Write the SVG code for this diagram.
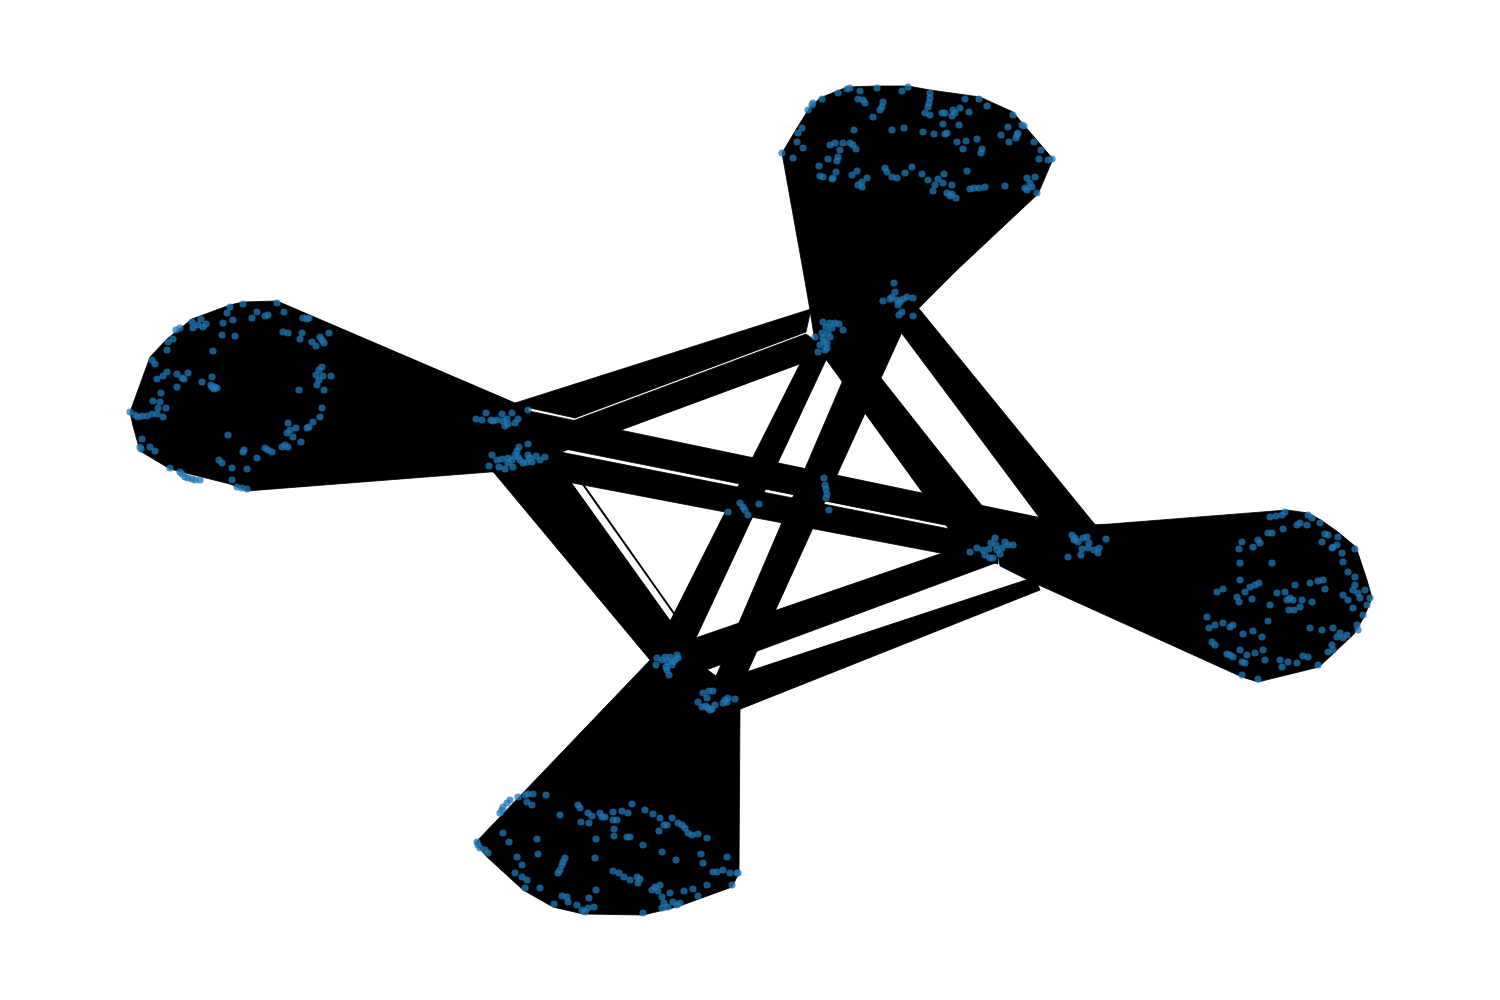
<svg xmlns="http://www.w3.org/2000/svg" width="1500" height="1000" viewBox="0 0 1500 1000">
<style>
.e polygon{fill:#000;stroke:#000;stroke-width:0.8;stroke-linejoin:round}
.n circle{fill:#1f77b4;fill-opacity:0.75}
</style>
<rect width="1500" height="1000" fill="#fff"/>
<g id="edges" class="e">
<polygon id="lobe-top" points="782,153 797,128 810,107 820,98 847,87 877,86 908,86 930,90 980,97 1013,112 1023,124 1053,159 1038,194 957,270 920,307 905,318 860,352 835,356 815,342 810,310 803,270"/>
<polygon id="lobe-left" points="130,412 133,426 140,451 170,469 230,484 247,491 490,472 520,472 548,462 535,440 528,408 515,403 277,301 243,302 230,305 192,319 167,339 150,357"/>
<polygon id="lobe-right" points="995,538 1050,527 1110,524 1287,510 1308,513 1321,520 1338,532 1356,547 1367,580 1372,598 1364,617 1354,634 1336,651 1319,667 1258,682 1242,677 1030,581 1000,566"/>
<polygon id="lobe-bottom" points="653,657 683,652 738,692 740,705 739,873 732,887 677,907 643,915 583,914 553,907 523,890 487,857 475,843"/>
<polygon points="512,404 811,309 806,332 575,418"/>
<polygon points="578,419 806,334 832,352 540,460 525,440"/>
<polygon points="505,406 1085,527 1085,553 505,437"/>
<polygon points="540,448 995,538 998,564 515,472"/>
<line x1="567" y1="451" x2="890" y2="515.5" stroke="#fff" stroke-width="1.2"/>
<polygon points="490,468 568,478 684,640 655,666"/>
<line x1="582" y1="483" x2="680" y2="622" stroke="#000" stroke-width="2"/>
<polygon points="812,340 833,345 688,655 653,655"/>
<polygon points="873,310 912,310 737,695 708,695"/>
<polygon points="812,340 851,340 1017,550 964,550"/>
<polygon points="912,300 1110,543 1062,548 888,315"/>
<polygon points="675,645 995,535 998,562 690,676"/>
<polygon points="722,680 1035,577 1040,590 738,710"/>
</g>
<g class="n">
<g id="nodes-top">
<circle cx="782" cy="153" r="3.6"/><circle cx="793" cy="158" r="3.6"/><circle cx="797" cy="142" r="3.6"/><circle cx="798" cy="133" r="3.6"/><circle cx="802" cy="128" r="3.6"/><circle cx="803" cy="148" r="3.6"/><circle cx="808" cy="110" r="3.6"/><circle cx="812" cy="105" r="3.6"/><circle cx="813" cy="103" r="3.6"/><circle cx="822" cy="99" r="3.6"/><circle cx="838" cy="93" r="3.6"/><circle cx="847" cy="89" r="3.6"/><circle cx="850" cy="88" r="3.6"/><circle cx="860" cy="91" r="3.6"/><circle cx="858" cy="99" r="3.6"/><circle cx="865" cy="103" r="3.6"/><circle cx="863" cy="100" r="3.6"/><circle cx="877" cy="88" r="3.6"/><circle cx="883" cy="102" r="3.6"/><circle cx="880" cy="110" r="3.6"/><circle cx="882" cy="107" r="3.6"/><circle cx="873" cy="117" r="3.6"/><circle cx="902" cy="91" r="3.6"/><circle cx="908" cy="87" r="3.6"/><circle cx="930" cy="93" r="3.6"/><circle cx="930" cy="98" r="3.6"/><circle cx="929" cy="103" r="3.6"/><circle cx="928" cy="107" r="3.6"/><circle cx="930" cy="115" r="3.6"/><circle cx="925" cy="113" r="3.6"/><circle cx="942" cy="113" r="3.6"/><circle cx="945" cy="113" r="3.6"/><circle cx="953" cy="110" r="3.6"/><circle cx="952" cy="116" r="3.6"/><circle cx="960" cy="108" r="3.6"/><circle cx="955" cy="113" r="3.6"/><circle cx="969" cy="112" r="3.6"/><circle cx="965" cy="99" r="3.6"/><circle cx="979" cy="99" r="3.6"/><circle cx="987" cy="106" r="3.6"/><circle cx="943" cy="124" r="3.6"/><circle cx="947" cy="133" r="3.6"/><circle cx="945" cy="134" r="3.6"/><circle cx="959" cy="125" r="3.6"/><circle cx="934" cy="134" r="3.6"/><circle cx="923" cy="132" r="3.6"/><circle cx="904" cy="128" r="3.6"/><circle cx="892" cy="130" r="3.6"/><circle cx="854" cy="130" r="3.6"/><circle cx="830" cy="145" r="3.6"/><circle cx="835" cy="143" r="3.6"/><circle cx="840" cy="150" r="3.6"/><circle cx="838" cy="157" r="3.6"/><circle cx="837" cy="161" r="3.6"/><circle cx="843" cy="143" r="3.6"/><circle cx="850" cy="143" r="3.6"/><circle cx="853" cy="145" r="3.6"/><circle cx="856" cy="149" r="3.6"/><circle cx="828" cy="159" r="3.6"/><circle cx="819" cy="166" r="3.6"/><circle cx="820" cy="176" r="3.6"/><circle cx="823" cy="177" r="3.6"/><circle cx="832" cy="179" r="3.6"/><circle cx="833" cy="178" r="3.6"/><circle cx="836" cy="172" r="3.6"/><circle cx="852" cy="175" r="3.6"/><circle cx="857" cy="171" r="3.6"/><circle cx="862" cy="182" r="3.6"/><circle cx="867" cy="178" r="3.6"/><circle cx="858" cy="185" r="3.6"/><circle cx="862" cy="187" r="3.6"/><circle cx="885" cy="168" r="3.6"/><circle cx="887" cy="172" r="3.6"/><circle cx="892" cy="177" r="3.6"/><circle cx="897" cy="178" r="3.6"/><circle cx="905" cy="173" r="3.6"/><circle cx="912" cy="167" r="3.6"/><circle cx="922" cy="174" r="3.6"/><circle cx="928" cy="180" r="3.6"/><circle cx="938" cy="179" r="3.6"/><circle cx="935" cy="185" r="3.6"/><circle cx="933" cy="191" r="3.6"/><circle cx="943" cy="183" r="3.6"/><circle cx="944" cy="174" r="3.6"/><circle cx="952" cy="185" r="3.6"/><circle cx="947" cy="193" r="3.6"/><circle cx="952" cy="194" r="3.6"/><circle cx="956" cy="198" r="3.6"/><circle cx="950" cy="196" r="3.6"/><circle cx="967" cy="171" r="3.6"/><circle cx="970" cy="189" r="3.6"/><circle cx="974" cy="188" r="3.6"/><circle cx="979" cy="188" r="3.6"/><circle cx="985" cy="187" r="3.6"/><circle cx="1005" cy="186" r="3.6"/><circle cx="957" cy="142" r="3.6"/><circle cx="966" cy="141" r="3.6"/><circle cx="963" cy="149" r="3.6"/><circle cx="977" cy="139" r="3.6"/><circle cx="982" cy="149" r="3.6"/><circle cx="981" cy="153" r="3.6"/><circle cx="1001" cy="135" r="3.6"/><circle cx="1008" cy="127" r="3.6"/><circle cx="1009" cy="142" r="3.6"/><circle cx="1013" cy="115" r="3.6"/><circle cx="1017" cy="135" r="3.6"/><circle cx="1016" cy="138" r="3.6"/><circle cx="1018" cy="133" r="3.6"/><circle cx="1022" cy="125" r="3.6"/><circle cx="1024" cy="126" r="3.6"/><circle cx="1034" cy="142" r="3.6"/><circle cx="1041" cy="150" r="3.6"/><circle cx="1039" cy="159" r="3.6"/><circle cx="1048" cy="160" r="3.6"/><circle cx="1052" cy="159" r="3.6"/><circle cx="1027" cy="178" r="3.6"/><circle cx="1030" cy="183" r="3.6"/><circle cx="1035" cy="177" r="3.6"/><circle cx="1032" cy="187" r="3.6"/><circle cx="1027" cy="190" r="3.6"/><circle cx="1037" cy="193" r="3.6"/><circle cx="1025" cy="188" r="3.6"/>
</g>
<g id="nodes-hubs">
<circle cx="894" cy="283" r="3.6"/><circle cx="895" cy="292" r="3.6"/><circle cx="883" cy="301" r="3.6"/><circle cx="890" cy="299" r="3.6"/><circle cx="897" cy="300" r="3.6"/><circle cx="903" cy="299" r="3.6"/><circle cx="907" cy="297" r="3.6"/><circle cx="913" cy="298" r="3.6"/><circle cx="898" cy="305" r="3.6"/><circle cx="902" cy="312" r="3.6"/><circle cx="899" cy="315" r="3.6"/><circle cx="913" cy="316" r="3.6"/><circle cx="892" cy="297" r="3.6"/><circle cx="900" cy="302" r="3.6"/>
<circle cx="823" cy="322" r="3.6"/><circle cx="830" cy="323" r="3.6"/><circle cx="835" cy="323" r="3.6"/><circle cx="839" cy="324" r="3.6"/><circle cx="843" cy="330" r="3.6"/><circle cx="832" cy="328" r="3.6"/><circle cx="828" cy="333" r="3.6"/><circle cx="822" cy="333" r="3.6"/><circle cx="815" cy="337" r="3.6"/><circle cx="823" cy="338" r="3.6"/><circle cx="827" cy="343" r="3.6"/><circle cx="820" cy="345" r="3.6"/><circle cx="818" cy="352" r="3.6"/><circle cx="825" cy="350" r="3.6"/><circle cx="827" cy="348" r="3.6"/><circle cx="830" cy="337" r="3.6"/><circle cx="826" cy="327" r="3.6"/><circle cx="824" cy="342" r="3.6"/>
<circle cx="824" cy="478" r="3.6"/><circle cx="825" cy="485" r="3.6"/><circle cx="826" cy="489" r="3.6"/><circle cx="827" cy="494" r="3.6"/><circle cx="826" cy="498" r="3.6"/><circle cx="829" cy="510" r="3.6"/>
<circle cx="728" cy="512" r="3.6"/><circle cx="740" cy="503" r="3.6"/><circle cx="743" cy="507" r="3.6"/><circle cx="745" cy="510" r="3.6"/><circle cx="748" cy="515" r="3.6"/><circle cx="759" cy="504" r="3.6"/>
<circle cx="657" cy="658" r="3.6"/><circle cx="656" cy="665" r="3.6"/><circle cx="665" cy="657" r="3.6"/><circle cx="670" cy="657" r="3.6"/><circle cx="677" cy="655" r="3.6"/><circle cx="678" cy="658" r="3.6"/><circle cx="668" cy="662" r="3.6"/><circle cx="672" cy="665" r="3.6"/><circle cx="667" cy="670" r="3.6"/><circle cx="669" cy="675" r="3.6"/><circle cx="673" cy="662" r="3.6"/><circle cx="666" cy="667" r="3.6"/><circle cx="675" cy="660" r="3.6"/><circle cx="662" cy="660" r="3.6"/>
<circle cx="703" cy="693" r="3.6"/><circle cx="709" cy="691" r="3.6"/><circle cx="713" cy="691" r="3.6"/><circle cx="698" cy="702" r="3.6"/><circle cx="702" cy="707" r="3.6"/><circle cx="707" cy="698" r="3.6"/><circle cx="708" cy="708" r="3.6"/><circle cx="715" cy="705" r="3.6"/><circle cx="725" cy="700" r="3.6"/><circle cx="728" cy="698" r="3.6"/><circle cx="735" cy="699" r="3.6"/><circle cx="723" cy="703" r="3.6"/><circle cx="712" cy="709" r="3.6"/><circle cx="706" cy="706" r="3.6"/><circle cx="710" cy="710" r="3.6"/><circle cx="727" cy="702" r="3.6"/>
<circle cx="476" cy="419" r="3.6"/><circle cx="482" cy="420" r="3.6"/><circle cx="486" cy="413" r="3.6"/><circle cx="491" cy="420" r="3.6"/><circle cx="493" cy="421" r="3.6"/><circle cx="497" cy="420" r="3.6"/><circle cx="502" cy="414" r="3.6"/><circle cx="503" cy="421" r="3.6"/><circle cx="507" cy="419" r="3.6"/><circle cx="505" cy="426" r="3.6"/><circle cx="512" cy="413" r="3.6"/><circle cx="515" cy="423" r="3.6"/><circle cx="518" cy="419" r="3.6"/><circle cx="528" cy="410" r="3.6"/><circle cx="508" cy="424" r="3.6"/>
<circle cx="492" cy="455" r="3.6"/><circle cx="489" cy="466" r="3.6"/><circle cx="497" cy="460" r="3.6"/><circle cx="502" cy="459" r="3.6"/><circle cx="499" cy="467" r="3.6"/><circle cx="505" cy="469" r="3.6"/><circle cx="508" cy="458" r="3.6"/><circle cx="513" cy="467" r="3.6"/><circle cx="515" cy="455" r="3.6"/><circle cx="517" cy="451" r="3.6"/><circle cx="519" cy="447" r="3.6"/><circle cx="520" cy="460" r="3.6"/><circle cx="528" cy="444" r="3.6"/><circle cx="528" cy="455" r="3.6"/><circle cx="527" cy="462" r="3.6"/><circle cx="532" cy="462" r="3.6"/><circle cx="536" cy="456" r="3.6"/><circle cx="540" cy="460" r="3.6"/><circle cx="545" cy="457" r="3.6"/><circle cx="523" cy="463" r="3.6"/><circle cx="508" cy="463" r="3.6"/><circle cx="512" cy="460" r="3.6"/><circle cx="530" cy="458" r="3.6"/><circle cx="518" cy="457" r="3.6"/>
<circle cx="970" cy="552" r="3.6"/><circle cx="977" cy="548" r="3.6"/><circle cx="983" cy="550" r="3.6"/><circle cx="985" cy="555" r="3.6"/><circle cx="989" cy="549" r="3.6"/><circle cx="991" cy="543" r="3.6"/><circle cx="995" cy="538" r="3.6"/><circle cx="993" cy="558" r="3.6"/><circle cx="997" cy="550" r="3.6"/><circle cx="1002" cy="548" r="3.6"/><circle cx="1005" cy="542" r="3.6"/><circle cx="1008" cy="545" r="3.6"/><circle cx="1013" cy="545" r="3.6"/><circle cx="1000" cy="554" r="3.6"/><circle cx="990" cy="558" r="3.6"/><circle cx="996" cy="545" r="3.6"/>
<circle cx="1072" cy="535" r="3.6"/><circle cx="1075" cy="538" r="3.6"/><circle cx="1078" cy="542" r="3.6"/><circle cx="1083" cy="538" r="3.6"/><circle cx="1087" cy="537" r="3.6"/><circle cx="1089" cy="543" r="3.6"/><circle cx="1082" cy="549" r="3.6"/><circle cx="1081" cy="555" r="3.6"/><circle cx="1088" cy="548" r="3.6"/><circle cx="1094" cy="550" r="3.6"/><circle cx="1099" cy="548" r="3.6"/><circle cx="1098" cy="553" r="3.6"/><circle cx="1106" cy="539" r="3.6"/><circle cx="1068" cy="557" r="3.6"/><circle cx="1074" cy="540" r="3.6"/>
</g>
<g id="nodes-left">
<circle cx="130" cy="412" r="3.6"/><circle cx="135" cy="415" r="3.6"/><circle cx="138" cy="417" r="3.6"/><circle cx="142" cy="416" r="3.6"/><circle cx="147" cy="416" r="3.6"/><circle cx="152" cy="414" r="3.6"/><circle cx="157" cy="414" r="3.6"/><circle cx="158" cy="408" r="3.6"/><circle cx="163" cy="417" r="3.6"/><circle cx="166" cy="408" r="3.6"/><circle cx="160" cy="402" r="3.6"/><circle cx="153" cy="401" r="3.6"/><circle cx="161" cy="393" r="3.6"/><circle cx="157" cy="379" r="3.6"/><circle cx="163" cy="376" r="3.6"/><circle cx="167" cy="372" r="3.6"/><circle cx="177" cy="374" r="3.6"/><circle cx="182" cy="378" r="3.6"/><circle cx="184" cy="379" r="3.6"/><circle cx="188" cy="373" r="3.6"/><circle cx="177" cy="387" r="3.6"/><circle cx="202" cy="382" r="3.6"/><circle cx="212" cy="377" r="3.6"/><circle cx="212" cy="387" r="3.6"/><circle cx="215" cy="387" r="3.6"/><circle cx="217" cy="388" r="3.6"/><circle cx="214" cy="389" r="3.6"/><circle cx="211" cy="385" r="3.6"/><circle cx="213" cy="351" r="3.6"/><circle cx="152" cy="360" r="3.6"/><circle cx="155" cy="364" r="3.6"/><circle cx="168" cy="342" r="3.6"/><circle cx="173" cy="339" r="3.6"/><circle cx="167" cy="350" r="3.6"/><circle cx="176" cy="330" r="3.6"/><circle cx="180" cy="328" r="3.6"/><circle cx="192" cy="322" r="3.6"/><circle cx="193" cy="328" r="3.6"/><circle cx="198" cy="325" r="3.6"/><circle cx="201" cy="319" r="3.6"/><circle cx="206" cy="324" r="3.6"/><circle cx="203" cy="327" r="3.6"/><circle cx="223" cy="323" r="3.6"/><circle cx="233" cy="320" r="3.6"/><circle cx="227" cy="313" r="3.6"/><circle cx="230" cy="307" r="3.6"/><circle cx="243" cy="304" r="3.6"/><circle cx="257" cy="312" r="3.6"/><circle cx="252" cy="318" r="3.6"/><circle cx="265" cy="316" r="3.6"/><circle cx="268" cy="315" r="3.6"/><circle cx="277" cy="303" r="3.6"/><circle cx="284" cy="312" r="3.6"/><circle cx="222" cy="335" r="3.6"/><circle cx="235" cy="336" r="3.6"/><circle cx="283" cy="332" r="3.6"/><circle cx="288" cy="333" r="3.6"/><circle cx="302" cy="333" r="3.6"/><circle cx="300" cy="339" r="3.6"/><circle cx="303" cy="318" r="3.6"/><circle cx="307" cy="319" r="3.6"/><circle cx="309" cy="318" r="3.6"/><circle cx="312" cy="342" r="3.6"/><circle cx="316" cy="346" r="3.6"/><circle cx="320" cy="337" r="3.6"/><circle cx="322" cy="340" r="3.6"/><circle cx="324" cy="343" r="3.6"/><circle cx="329" cy="333" r="3.6"/><circle cx="319" cy="370" r="3.6"/><circle cx="322" cy="367" r="3.6"/><circle cx="316" cy="375" r="3.6"/><circle cx="323" cy="376" r="3.6"/><circle cx="319" cy="380" r="3.6"/><circle cx="317" cy="385" r="3.6"/><circle cx="331" cy="376" r="3.6"/><circle cx="324" cy="390" r="3.6"/><circle cx="299" cy="390" r="3.6"/><circle cx="322" cy="408" r="3.6"/><circle cx="320" cy="417" r="3.6"/><circle cx="313" cy="422" r="3.6"/><circle cx="309" cy="427" r="3.6"/><circle cx="307" cy="428" r="3.6"/><circle cx="288" cy="423" r="3.6"/><circle cx="296" cy="428" r="3.6"/><circle cx="290" cy="430" r="3.6"/><circle cx="287" cy="433" r="3.6"/><circle cx="293" cy="437" r="3.6"/><circle cx="285" cy="445" r="3.6"/><circle cx="282" cy="447" r="3.6"/><circle cx="288" cy="447" r="3.6"/><circle cx="301" cy="442" r="3.6"/><circle cx="268" cy="450" r="3.6"/><circle cx="272" cy="452" r="3.6"/><circle cx="265" cy="448" r="3.6"/><circle cx="257" cy="458" r="3.6"/><circle cx="244" cy="450" r="3.6"/><circle cx="243" cy="452" r="3.6"/><circle cx="228" cy="435" r="3.6"/><circle cx="219" cy="460" r="3.6"/><circle cx="222" cy="463" r="3.6"/><circle cx="232" cy="468" r="3.6"/><circle cx="247" cy="469" r="3.6"/><circle cx="232" cy="480" r="3.6"/><circle cx="237" cy="487" r="3.6"/><circle cx="242" cy="488" r="3.6"/><circle cx="247" cy="489" r="3.6"/><circle cx="180" cy="472" r="3.6"/><circle cx="182" cy="474" r="3.6"/><circle cx="185" cy="477" r="3.6"/><circle cx="188" cy="478" r="3.6"/><circle cx="192" cy="479" r="3.6"/><circle cx="195" cy="480" r="3.6"/><circle cx="200" cy="480" r="3.6"/><circle cx="170" cy="468" r="3.6"/><circle cx="142" cy="439" r="3.6"/><circle cx="140" cy="447" r="3.6"/><circle cx="141" cy="449" r="3.6"/><circle cx="150" cy="447" r="3.6"/><circle cx="155" cy="451" r="3.6"/>
</g>
<g id="nodes-right">
<circle cx="1270" cy="517" r="3.6"/><circle cx="1276" cy="516" r="3.6"/><circle cx="1282" cy="515" r="3.6"/><circle cx="1285" cy="512" r="3.6"/><circle cx="1283" cy="529" r="3.6"/><circle cx="1268" cy="533" r="3.6"/><circle cx="1272" cy="533" r="3.6"/><circle cx="1258" cy="540" r="3.6"/><circle cx="1253" cy="547" r="3.6"/><circle cx="1260" cy="543" r="3.6"/><circle cx="1242" cy="542" r="3.6"/><circle cx="1239" cy="549" r="3.6"/><circle cx="1240" cy="563" r="3.6"/><circle cx="1240" cy="580" r="3.6"/><circle cx="1217" cy="592" r="3.6"/><circle cx="1223" cy="589" r="3.6"/><circle cx="1237" cy="597" r="3.6"/><circle cx="1239" cy="602" r="3.6"/><circle cx="1245" cy="592" r="3.6"/><circle cx="1250" cy="587" r="3.6"/><circle cx="1255" cy="585" r="3.6"/><circle cx="1259" cy="583" r="3.6"/><circle cx="1252" cy="599" r="3.6"/><circle cx="1272" cy="563" r="3.6"/><circle cx="1277" cy="593" r="3.6"/><circle cx="1285" cy="592" r="3.6"/><circle cx="1287" cy="600" r="3.6"/><circle cx="1290" cy="598" r="3.6"/><circle cx="1293" cy="600" r="3.6"/><circle cx="1295" cy="585" r="3.6"/><circle cx="1302" cy="600" r="3.6"/><circle cx="1312" cy="602" r="3.6"/><circle cx="1310" cy="583" r="3.6"/><circle cx="1318" cy="581" r="3.6"/><circle cx="1323" cy="580" r="3.6"/><circle cx="1325" cy="589" r="3.6"/><circle cx="1289" cy="610" r="3.6"/><circle cx="1294" cy="610" r="3.6"/><circle cx="1300" cy="607" r="3.6"/><circle cx="1270" cy="605" r="3.6"/><circle cx="1268" cy="621" r="3.6"/><circle cx="1207" cy="617" r="3.6"/><circle cx="1215" cy="625" r="3.6"/><circle cx="1209" cy="628" r="3.6"/><circle cx="1223" cy="623" r="3.6"/><circle cx="1230" cy="627" r="3.6"/><circle cx="1233" cy="625" r="3.6"/><circle cx="1212" cy="642" r="3.6"/><circle cx="1215" cy="645" r="3.6"/><circle cx="1227" cy="654" r="3.6"/><circle cx="1230" cy="655" r="3.6"/><circle cx="1233" cy="657" r="3.6"/><circle cx="1240" cy="650" r="3.6"/><circle cx="1242" cy="662" r="3.6"/><circle cx="1245" cy="663" r="3.6"/><circle cx="1247" cy="655" r="3.6"/><circle cx="1243" cy="634" r="3.6"/><circle cx="1253" cy="631" r="3.6"/><circle cx="1262" cy="637" r="3.6"/><circle cx="1255" cy="653" r="3.6"/><circle cx="1263" cy="650" r="3.6"/><circle cx="1265" cy="660" r="3.6"/><circle cx="1242" cy="675" r="3.6"/><circle cx="1258" cy="679" r="3.6"/><circle cx="1280" cy="660" r="3.6"/><circle cx="1282" cy="667" r="3.6"/><circle cx="1288" cy="662" r="3.6"/><circle cx="1297" cy="663" r="3.6"/><circle cx="1303" cy="656" r="3.6"/><circle cx="1308" cy="657" r="3.6"/><circle cx="1318" cy="665" r="3.6"/><circle cx="1310" cy="628" r="3.6"/><circle cx="1322" cy="630" r="3.6"/><circle cx="1333" cy="628" r="3.6"/><circle cx="1332" cy="645" r="3.6"/><circle cx="1337" cy="637" r="3.6"/><circle cx="1340" cy="633" r="3.6"/><circle cx="1343" cy="638" r="3.6"/><circle cx="1347" cy="635" r="3.6"/><circle cx="1333" cy="650" r="3.6"/><circle cx="1328" cy="652" r="3.6"/><circle cx="1357" cy="625" r="3.6"/><circle cx="1358" cy="630" r="3.6"/><circle cx="1363" cy="615" r="3.6"/><circle cx="1367" cy="605" r="3.6"/><circle cx="1353" cy="608" r="3.6"/><circle cx="1348" cy="600" r="3.6"/><circle cx="1343" cy="595" r="3.6"/><circle cx="1353" cy="590" r="3.6"/><circle cx="1358" cy="593" r="3.6"/><circle cx="1360" cy="598" r="3.6"/><circle cx="1355" cy="585" r="3.6"/><circle cx="1365" cy="590" r="3.6"/><circle cx="1370" cy="598" r="3.6"/><circle cx="1355" cy="577" r="3.6"/><circle cx="1348" cy="572" r="3.6"/><circle cx="1343" cy="562" r="3.6"/><circle cx="1342" cy="553" r="3.6"/><circle cx="1337" cy="545" r="3.6"/><circle cx="1333" cy="547" r="3.6"/><circle cx="1338" cy="537" r="3.6"/><circle cx="1328" cy="535" r="3.6"/><circle cx="1325" cy="534" r="3.6"/><circle cx="1322" cy="542" r="3.6"/><circle cx="1332" cy="548" r="3.6"/><circle cx="1307" cy="525" r="3.6"/><circle cx="1312" cy="518" r="3.6"/><circle cx="1320" cy="523" r="3.6"/><circle cx="1308" cy="515" r="3.6"/><circle cx="1297" cy="525" r="3.6"/><circle cx="1300" cy="523" r="3.6"/><circle cx="1355" cy="549" r="3.6"/>
</g>
<g id="nodes-bottom">
<circle cx="477" cy="842" r="3.6"/><circle cx="478" cy="845" r="3.6"/><circle cx="480" cy="848" r="3.6"/><circle cx="485" cy="850" r="3.6"/><circle cx="488" cy="853" r="3.6"/><circle cx="500" cy="813" r="3.6"/><circle cx="502" cy="810" r="3.6"/><circle cx="503" cy="807" r="3.6"/><circle cx="507" cy="803" r="3.6"/><circle cx="510" cy="800" r="3.6"/><circle cx="518" cy="797" r="3.6"/><circle cx="525" cy="795" r="3.6"/><circle cx="528" cy="794" r="3.6"/><circle cx="533" cy="794" r="3.6"/><circle cx="527" cy="802" r="3.6"/><circle cx="532" cy="805" r="3.6"/><circle cx="546" cy="795" r="3.6"/><circle cx="503" cy="833" r="3.6"/><circle cx="509" cy="842" r="3.6"/><circle cx="537" cy="839" r="3.6"/><circle cx="538" cy="854" r="3.6"/><circle cx="517" cy="857" r="3.6"/><circle cx="522" cy="865" r="3.6"/><circle cx="515" cy="873" r="3.6"/><circle cx="522" cy="877" r="3.6"/><circle cx="527" cy="880" r="3.6"/><circle cx="525" cy="888" r="3.6"/><circle cx="540" cy="888" r="3.6"/><circle cx="560" cy="815" r="3.6"/><circle cx="578" cy="805" r="3.6"/><circle cx="580" cy="808" r="3.6"/><circle cx="581" cy="822" r="3.6"/><circle cx="588" cy="813" r="3.6"/><circle cx="589" cy="823" r="3.6"/><circle cx="592" cy="816" r="3.6"/><circle cx="600" cy="813" r="3.6"/><circle cx="602" cy="817" r="3.6"/><circle cx="605" cy="817" r="3.6"/><circle cx="613" cy="812" r="3.6"/><circle cx="613" cy="820" r="3.6"/><circle cx="617" cy="820" r="3.6"/><circle cx="622" cy="811" r="3.6"/><circle cx="628" cy="813" r="3.6"/><circle cx="632" cy="804" r="3.6"/><circle cx="645" cy="810" r="3.6"/><circle cx="653" cy="814" r="3.6"/><circle cx="660" cy="818" r="3.6"/><circle cx="659" cy="831" r="3.6"/><circle cx="664" cy="825" r="3.6"/><circle cx="667" cy="825" r="3.6"/><circle cx="672" cy="818" r="3.6"/><circle cx="678" cy="823" r="3.6"/><circle cx="682" cy="825" r="3.6"/><circle cx="685" cy="828" r="3.6"/><circle cx="688" cy="833" r="3.6"/><circle cx="692" cy="835" r="3.6"/><circle cx="698" cy="834" r="3.6"/><circle cx="707" cy="838" r="3.6"/><circle cx="614" cy="829" r="3.6"/><circle cx="614" cy="836" r="3.6"/><circle cx="627" cy="837" r="3.6"/><circle cx="630" cy="837" r="3.6"/><circle cx="596" cy="839" r="3.6"/><circle cx="643" cy="845" r="3.6"/><circle cx="662" cy="852" r="3.6"/><circle cx="676" cy="860" r="3.6"/><circle cx="701" cy="854" r="3.6"/><circle cx="703" cy="863" r="3.6"/><circle cx="727" cy="857" r="3.6"/><circle cx="713" cy="872" r="3.6"/><circle cx="717" cy="872" r="3.6"/><circle cx="723" cy="870" r="3.6"/><circle cx="730" cy="873" r="3.6"/><circle cx="737" cy="873" r="3.6"/><circle cx="738" cy="873" r="3.6"/><circle cx="732" cy="885" r="3.6"/><circle cx="707" cy="885" r="3.6"/><circle cx="693" cy="889" r="3.6"/><circle cx="684" cy="891" r="3.6"/><circle cx="698" cy="896" r="3.6"/><circle cx="613" cy="871" r="3.6"/><circle cx="619" cy="873" r="3.6"/><circle cx="624" cy="877" r="3.6"/><circle cx="630" cy="880" r="3.6"/><circle cx="637" cy="877" r="3.6"/><circle cx="640" cy="879" r="3.6"/><circle cx="638" cy="883" r="3.6"/><circle cx="595" cy="858" r="3.6"/><circle cx="560" cy="870" r="3.6"/><circle cx="558" cy="873" r="3.6"/><circle cx="562" cy="865" r="3.6"/><circle cx="563" cy="862" r="3.6"/><circle cx="565" cy="858" r="3.6"/><circle cx="596" cy="890" r="3.6"/><circle cx="589" cy="898" r="3.6"/><circle cx="562" cy="896" r="3.6"/><circle cx="567" cy="897" r="3.6"/><circle cx="568" cy="902" r="3.6"/><circle cx="554" cy="904" r="3.6"/><circle cx="577" cy="905" r="3.6"/><circle cx="582" cy="910" r="3.6"/><circle cx="585" cy="912" r="3.6"/><circle cx="588" cy="908" r="3.6"/><circle cx="594" cy="907" r="3.6"/><circle cx="643" cy="913" r="3.6"/><circle cx="652" cy="890" r="3.6"/><circle cx="655" cy="887" r="3.6"/><circle cx="660" cy="885" r="3.6"/><circle cx="662" cy="897" r="3.6"/><circle cx="664" cy="903" r="3.6"/><circle cx="668" cy="907" r="3.6"/><circle cx="662" cy="908" r="3.6"/><circle cx="673" cy="902" r="3.6"/><circle cx="677" cy="905" r="3.6"/><circle cx="680" cy="903" r="3.6"/><circle cx="670" cy="893" r="3.6"/><circle cx="658" cy="891" r="3.6"/>
</g>
</g>
</svg>
